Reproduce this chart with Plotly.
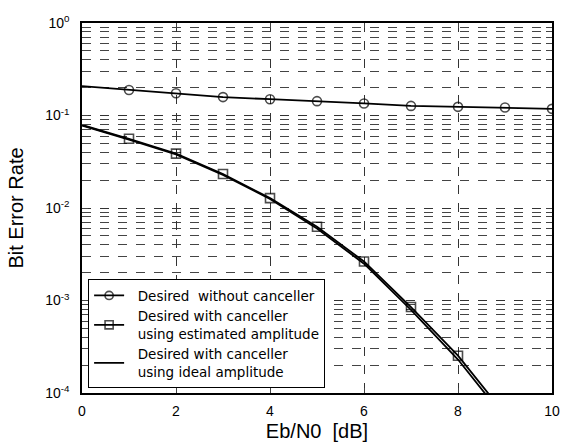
import plotly.graph_objects as go

ebn0 = [0, 1, 2, 3, 4, 5, 6, 7, 8, 9, 10]
ber_without = [0.208, 0.189, 0.174, 0.158, 0.150, 0.143, 0.135, 0.127, 0.124, 0.122, 0.118]
ebn0_cancel = [0, 1, 2, 3, 4, 5, 6, 7, 8, 9]
ber_estimated = [0.079, 0.056, 0.0387, 0.0233, 0.0128, 0.00626, 0.00264, 8.5e-4, 2.53e-4, 5.9e-5]
ber_ideal = [0.078, 0.055, 0.0380, 0.0228, 0.0125, 0.0060, 0.00250, 7.9e-4, 2.3e-4, 5.3e-5]

ytick_vals = [1e-4, 1e-3, 1e-2, 1e-1, 1]
ytick_text = ["10<sup>-4</sup>", "10<sup>-3</sup>", "10<sup>-2</sup>", "10<sup>-1</sup>", "10<sup>0</sup>"]
xtick_vals = [0, 2, 4, 6, 8, 10]

pad = "&nbsp;&nbsp;"
names = [
    pad + "Desired&nbsp; without canceller",
    pad + "Desired with canceller<br>" + pad + "using estimated amplitude",
    pad + "Desired with canceller<br>" + pad + "using ideal amplitude",
]

fig = go.Figure()
fig.add_trace(go.Scatter(
    x=ebn0, y=ber_without, name=names[0], mode="lines+markers",
    line=dict(color="black", width=1.8),
    marker=dict(symbol="circle-open", size=[0] + [9] * 10, color="black",
                line=dict(width=1.6)),
))
fig.add_trace(go.Scatter(
    x=ebn0_cancel, y=ber_estimated, name=names[1], mode="lines+markers",
    line=dict(color="black", width=1.8),
    marker=dict(symbol="square-open", size=[0] + [9] * 9, color="black",
                line=dict(width=1.6)),
))
fig.add_trace(go.Scatter(
    x=ebn0_cancel, y=ber_ideal, name=names[2], mode="lines",
    line=dict(color="black", width=1.8),
))

fig.update_layout(
    width=569, height=448,
    margin=dict(l=82, r=9, t=23, b=51),
    paper_bgcolor="white", plot_bgcolor="white",
    font=dict(family="Arial", color="black", size=13),
    showlegend=True,
    legend=dict(
        x=0.013, y=0.013, xanchor="left", yanchor="bottom",
        bgcolor="white", bordercolor="black", borderwidth=1,
        font=dict(family="DejaVu Sans", size=13.5),
        tracegroupgap=0, itemsizing="trace",
    ),
)
fig.update_xaxes(
    range=[0, 10], tickvals=xtick_vals, ticks="inside", ticklen=5,
    showline=True, linecolor="black", linewidth=1.5, mirror="ticks",
    showgrid=True, gridcolor="#333", griddash="dash", gridwidth=1,
    zeroline=False,
    title=dict(text="Eb/N0&nbsp; [dB]", font=dict(family="Arial", size=20), standoff=6),
    tickfont=dict(family="Arial", size=14),
    ticklabelstandoff=4,
)
fig.update_yaxes(
    type="log", range=[-4, 0], tickvals=ytick_vals, ticktext=ytick_text,
    ticks="inside", ticklen=6,
    showline=True, linecolor="black", linewidth=1.5, mirror="ticks",
    showgrid=True, gridcolor="#333", griddash="dash", gridwidth=1,
    minor=dict(ticks="inside", ticklen=6, showgrid=True, gridcolor="#444",
               griddash="dash", gridwidth=1, dtick="D1"),
    zeroline=False,
    title=dict(text="Bit Error Rate", font=dict(family="Arial", size=20), standoff=16),
    tickfont=dict(family="Arial", size=14),
    ticklabelstandoff=8,
)

fig.write_html(
    "out.html",
    config={"displayModeBar": False},
    post_script="document.body.style.margin='0';document.body.style.padding='0';",
)
